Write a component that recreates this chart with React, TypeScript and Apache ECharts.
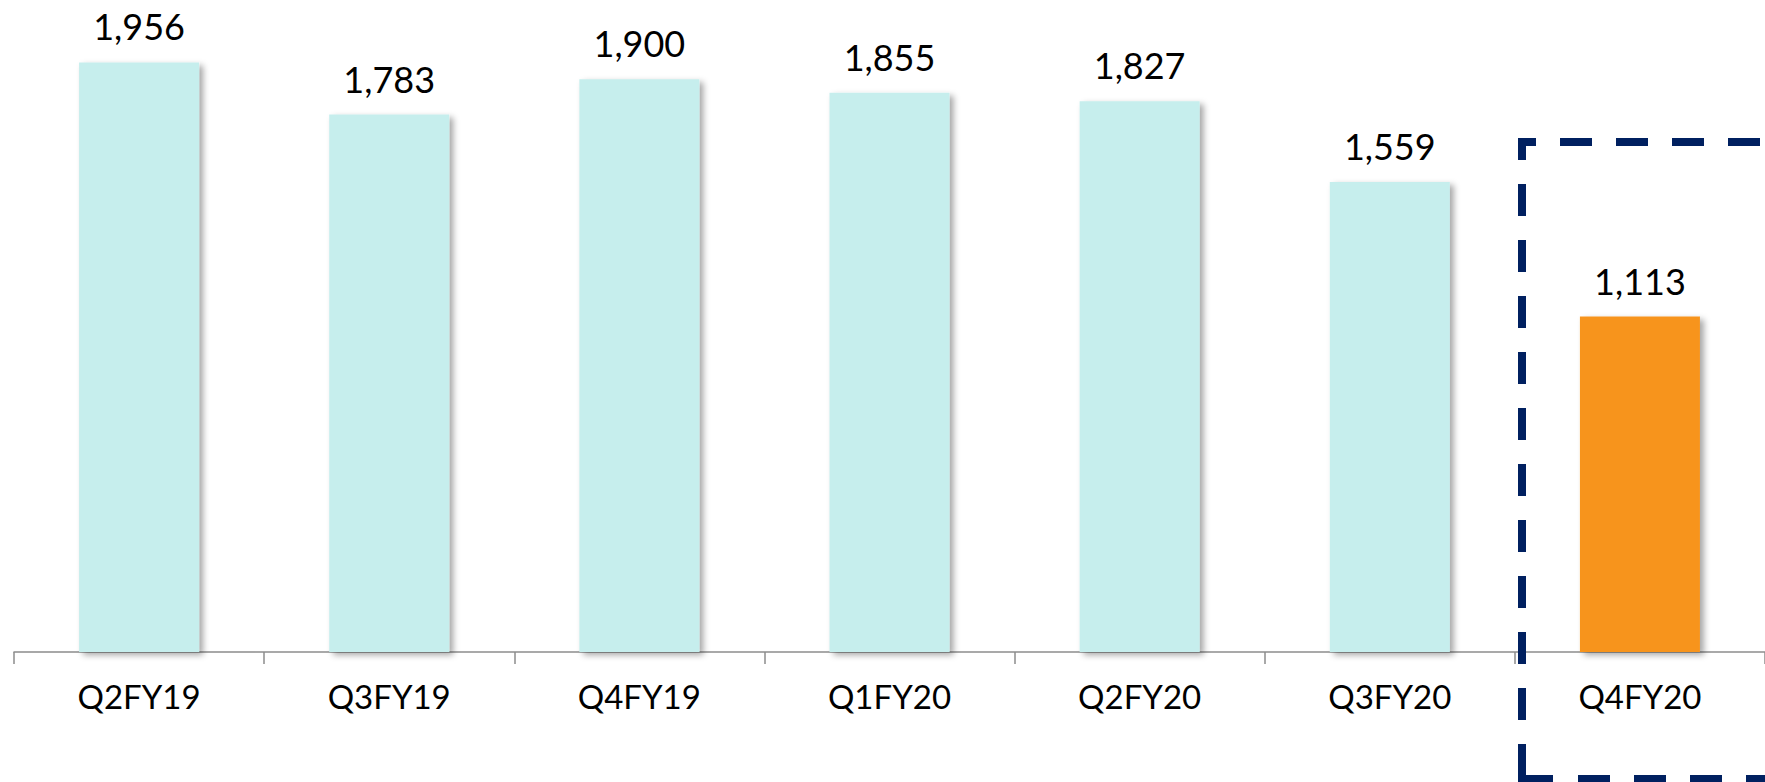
import React, { useEffect, useRef } from "react";
import * as echarts from "echarts";

const categories = ["Q2FY19", "Q3FY19", "Q4FY19", "Q1FY20", "Q2FY20", "Q3FY20", "Q4FY20"];
const values = [1956, 1783, 1900, 1855, 1827, 1559, 1113];
const highlightIndex = 6;

const BAR_COLOR = "#C6EEED";
const HIGHLIGHT_COLOR = "#F7941E";
const BOX_COLOR = "#002060";
const FONT = "Lato, 'Open Sans', sans-serif";

export default function App() {
  const ref = useRef<HTMLDivElement>(null);
  useEffect(() => {
    if (!ref.current) return;
    const chart = echarts.init(ref.current, null, { renderer: "svg" });
    const boxStyle = { stroke: BOX_COLOR, lineWidth: 8, fill: null };
    chart.setOption({
      animation: false,
      grid: { left: 14, top: 0, width: 1765.4, height: 652, containLabel: false },
      xAxis: {
        type: "category",
        data: categories,
        axisLine: { show: true, lineStyle: { color: "#8C8C8C", width: 1.5 } },
        axisTick: { show: true, length: 12, lineStyle: { color: "#8C8C8C", width: 1.5 } },
        axisLabel: { fontSize: 33, color: "#000", fontFamily: FONT, margin: 27 },
      },
      yAxis: { type: "value", min: 0, max: 2163, show: false, splitLine: { show: false } },
      series: [
        {
          type: "bar",
          barWidth: 120,
          data: values.map((v, i) => ({
            value: v,
            itemStyle: { color: i === highlightIndex ? HIGHLIGHT_COLOR : BAR_COLOR },
          })),
          itemStyle: {
            shadowBlur: 6,
            shadowColor: "rgba(0,0,0,0.35)",
            shadowOffsetX: 4,
            shadowOffsetY: 3,
          },
          label: {
            show: true,
            position: "top",
            distance: 18,
            fontSize: 36,
            color: "#000",
            fontFamily: FONT,
            formatter: (p: any) => Number(p.value).toLocaleString("en-US"),
          },
        },
      ],
      graphic: [
        {
          type: "polyline",
          shape: { points: [[1802, 142], [1522, 142], [1522, 779]] },
          style: { ...boxStyle, lineDash: [32, 24], lineDashOffset: 14 },
          silent: true,
          z: 100,
        },
        {
          type: "polyline",
          shape: { points: [[1522, 744], [1522, 779], [1553, 779]] },
          style: { ...boxStyle },
          silent: true,
          z: 100,
        },
        {
          type: "polyline",
          shape: { points: [[1578, 779], [1802, 779]] },
          style: { ...boxStyle, lineDash: [32, 24], lineDashOffset: 0 },
          silent: true,
          z: 100,
        },
      ],
    });
    return () => chart.dispose();
  }, []);
  return (
    <div
      ref={ref}
      style={{ position: "absolute", left: 0, top: 0, width: 1765, height: 782, background: "#fff" }}
    />
  );
}
